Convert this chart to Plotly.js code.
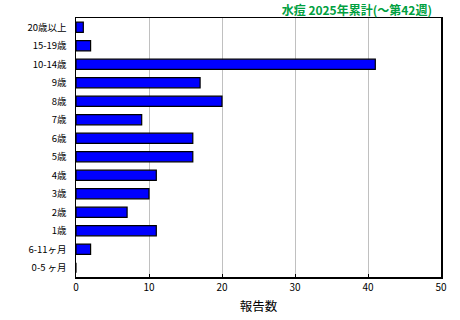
<!DOCTYPE html>
<html><head><meta charset="utf-8">
<script src="https://cdn.plot.ly/plotly-3.0.1.min.js"></script>
<style>html,body{margin:0;padding:0;background:#fff;}</style>
</head><body>
<div id="chart" style="width:460px;height:320px;"></div>
<script>
const ageGroups = ["20歳以上","15-19歳","10-14歳","9歳","8歳","7歳","6歳","5歳","4歳","3歳","2歳","1歳","6-11ヶ月","0-5 ヶ月"];
const reports = [1,2,41,17,20,9,16,16,11,10,7,11,2,0];
const xTicks = [0,10,20,30,40,50];
const chartTitle = "水痘 2025年累計(～第42週)";
const xTitle = "報告数";

const font = "'Noto Sans CJK JP', 'DejaVu Sans', sans-serif";
Plotly.newPlot('chart', [{
  type: 'bar', orientation: 'h',
  x: reports, y: ageGroups,
  marker: {color: '#0000ff', line: {color: '#000000', width: 1.2}},
  hoverinfo: 'none'
}], {
  width: 460, height: 320,
  margin: {l: 76, r: 19, t: 18, b: 43},
  paper_bgcolor: '#fff', plot_bgcolor: '#fff',
  bargap: 0.45,
  showlegend: false,
  title: {text: chartTitle, x: 0.939, xanchor: 'right', y: 0.978, yanchor: 'top',
          font: {family: font, size: 12, color: '#00a040', weight: 'bold'}},
  xaxis: {range: [0, 50], tickvals: xTicks, ticktext: xTicks.map(String),
          showgrid: true, gridcolor: '#c0c0c0', gridwidth: 1,
          showline: true, linecolor: '#000', linewidth: 1.5, mirror: true,
          ticks: 'inside', ticklen: 3, tickcolor: '#000', zeroline: false,
          tickfont: {family: font, size: 10, color: '#000'},
          title: {text: xTitle, font: {family: font, size: 12.5, color: '#000'}, standoff: 9}},
  yaxis: {type: 'category', autorange: 'reversed',
          showline: true, linecolor: '#000', linewidth: 1.5, mirror: true,
          showgrid: false, ticks: '', ticklabelstandoff: 6,
          tickfont: {family: font, size: 9.5, color: '#000'}}
}, {staticPlot: true});
</script>
</body></html>
